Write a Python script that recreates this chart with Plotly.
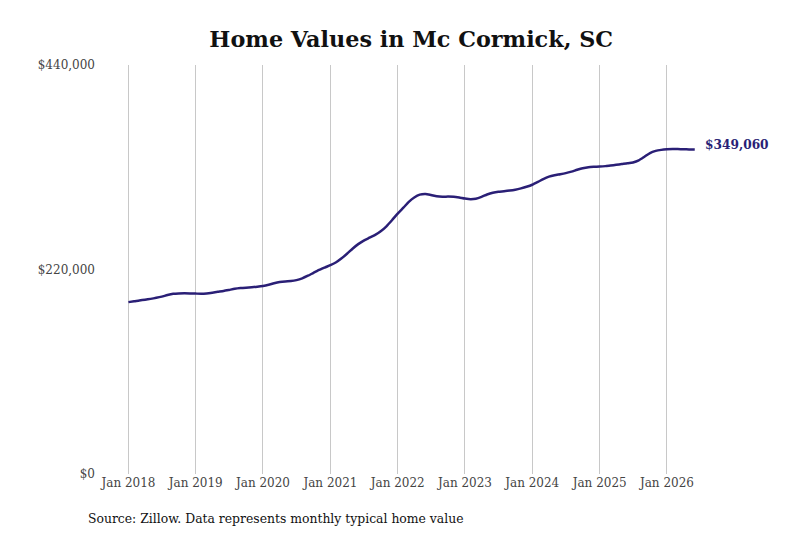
import pandas as pd
import plotly.graph_objects as go

# Typical home value, Mc Cormick SC, monthly from Jan 2018
start_month = "2018-01-01"
home_values = [
    # 2018
    184900, 185800, 186700, 187500, 188400, 189500, 190800, 192500, 193800, 194300, 194400, 194300,
    # 2019
    194100, 193900, 194300, 195100, 196000, 196900, 198000, 199200, 200000, 200500, 200900, 201500,
    # 2020
    202300, 203600, 205200, 206500, 207200, 207600, 208600, 210500, 213300, 216400, 219500, 222100,
    # 2021
    224700, 227800, 231800, 236900, 242400, 247300, 251100, 254200, 257300, 261100, 266500, 273000,
    # 2022
    280200, 286500, 292500, 297500, 300500, 301200, 300100, 298800, 298300, 298400, 298300, 297500,
    # 2023
    296400, 295700, 296200, 298200, 300700, 302600, 303700, 304200, 304900, 305900, 307300, 309000,
    # 2024
    311200, 314200, 317300, 319900, 321400, 322500, 323700, 325300, 327300, 329000, 330100, 330500,
    # 2025
    330700, 331200, 331900, 332600, 333400, 334200, 335200, 337400, 341300, 345300, 347600, 348700,
    # 2026
    349300, 349500, 349500, 349300, 349200, 349060,
]
months = pd.date_range(start_month, periods=len(home_values), freq="MS")

x_ticks = pd.date_range("2018-01-01", "2026-01-01", freq="YS")
x_tick_text = [d.strftime("Jan %Y") for d in x_ticks]
y_ticks = [0, 220000, 440000]
y_tick_text = ["$0", "$220,000", "$440,000"]

line_color = "#2a1f76"
font_family = "DejaVu Serif"

fig = go.Figure()
fig.add_trace(go.Scatter(
    x=months,
    y=home_values,
    mode="lines",
    line=dict(color=line_color, width=2.5, shape="spline", smoothing=0.6),
    hoverinfo="x+y",
    showlegend=False,
))

# end-of-line value label
fig.add_annotation(
    x=months[-1], y=home_values[-1],
    text=f"<b>${home_values[-1]:,}</b>",
    showarrow=False,
    xanchor="left", yanchor="middle",
    xshift=8, yshift=5,
    font=dict(family=font_family, size=12.2, color=line_color),
)

fig.add_annotation(
    x=0, y=0, xref="paper", yref="paper",
    text="Source: Zillow. Data represents monthly typical home value",
    showarrow=False,
    xanchor="left", yanchor="top",
    xshift=-10, yshift=-35,
    font=dict(family=font_family, size=12.4, color="#111111"),
)

fig.update_layout(
    width=800,
    height=533,
    title=dict(
        text="<b>Home Values in Mc Cormick, SC</b>",
        x=0.504, xanchor="center",
        y=0.942, yanchor="middle",
        font=dict(family=font_family, size=22.3, color="#111111"),
    ),
    font=dict(family=font_family, size=12, color="#444444"),
    margin=dict(l=88, r=20, t=57, b=67),
    plot_bgcolor="white",
    paper_bgcolor="white",
    xaxis=dict(
        type="date",
        range=["2017-07-09", "2027-10-20"],
        tickvals=x_ticks,
        ticktext=x_tick_text,
        showgrid=True,
        gridcolor="#c8c8c8",
        gridwidth=1,
        zeroline=False,
        showline=False,
        ticks="",
    ),
    yaxis=dict(
        range=[0, 440000],
        tickvals=y_ticks,
        ticktext=y_tick_text,
        showgrid=False,
        zeroline=False,
        showline=False,
        ticks="",
    ),
)

fig.write_html("out.html")
